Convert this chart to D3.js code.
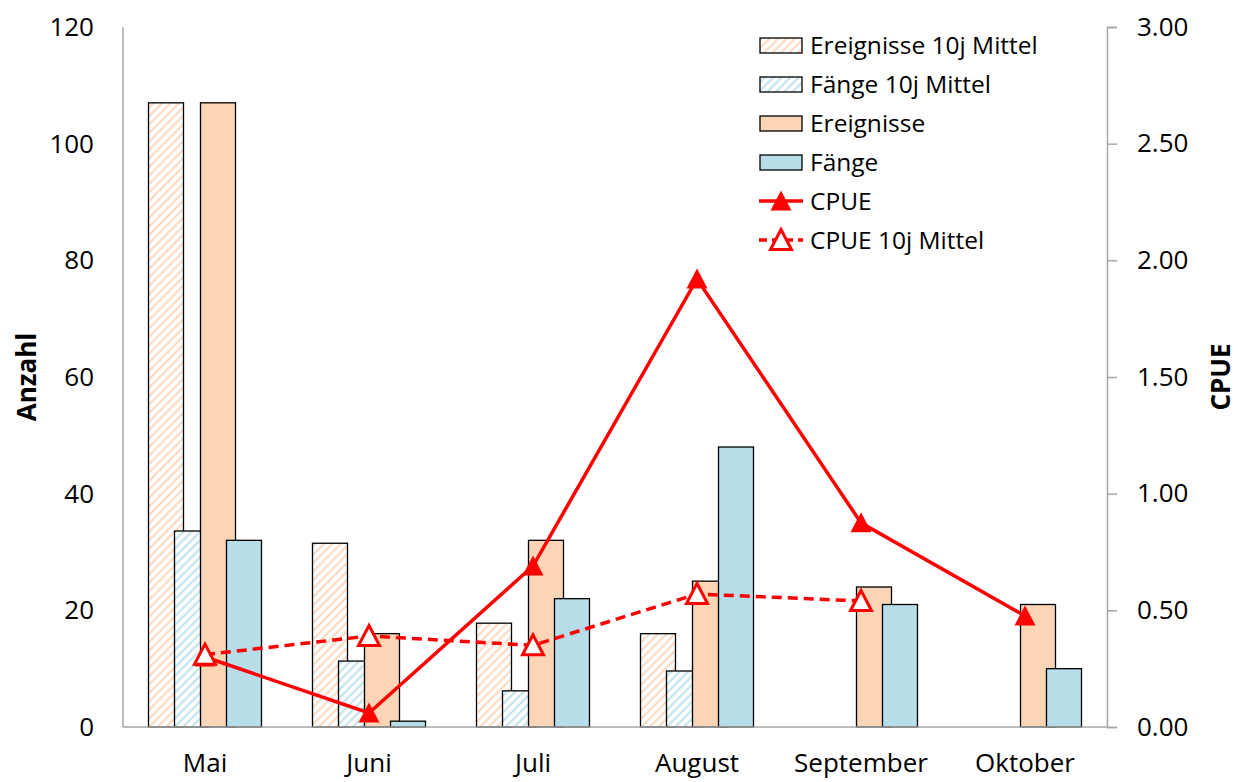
<!doctype html>
<html>
<head>
<meta charset="utf-8">
<style>
    body { margin: 0; background: #fff; }
    text { font-family: "Open Sans", sans-serif; fill: #000; }
</style>
<script src="https://d3js.org/d3.v7.min.js"></script>
</head>
<body>
<svg width="1241" height="782"></svg>
<script>

    // data
    var months = ["Mai", "Juni", "Juli", "August", "September", "Oktober"];
    var ereignisse10j = [107, 31.5, 17.8, 16, null, null];
    var faenge10j     = [33.6, 11.3, 6.2, 9.6, null, null];
    var ereignisse    = [107, 16, 32, 25, 24, 21];
    var faenge        = [32, 1, 22, 48, 21, 10];
    var cpue          = [0.30, 0.06, 0.69, 1.92, 0.875, 0.476];
    var cpue10j       = [0.31, 0.39, 0.35, 0.57, 0.54, null];
    var leftTicks  = [0, 20, 40, 60, 80, 100, 120];
    var rightTicks = [0, 0.5, 1, 1.5, 2, 2.5, 3];

    var peach = "#fbd5b5", blue = "#b7dee8", red = "#ff0000", axisGrey = "#a6a6a6";

    var svg = d3.select("svg");
    var plotLeft = 123, plotRight = 1107, plotTop = 27, plotBottom = 727;

    var x = d3.scaleBand().domain(months).range([plotLeft, plotRight]).padding(0);
    var y = d3.scaleLinear().domain([0, 120]).range([plotBottom, plotTop]);
    var y2 = d3.scaleLinear().domain([0, 3]).range([plotBottom, plotTop]);

    var series = [
        { name: "Ereignisse 10j Mittel", values: ereignisse10j, fill: "url(#hatchPeach)" },
        { name: "Fänge 10j Mittel", values: faenge10j, fill: "url(#hatchBlue)" },
        { name: "Ereignisse", values: ereignisse, fill: peach },
        { name: "Fänge", values: faenge, fill: blue }
    ];

    var barW = 35;
    var slot = d3.scalePoint().domain(d3.range(4)).range([-56.5, 21.5]);

    // hatch patterns
    var defs = svg.append("defs");
    [["hatchPeach", "#f9d2b4"], ["hatchBlue", "#b8dde8"]].forEach(function(p) {
        var pat = defs.append("pattern")
            .attr("id", p[0])
            .attr("patternUnits", "userSpaceOnUse")
            .attr("width", 6).attr("height", 6)
            .attr("patternTransform", "rotate(45)");
        pat.append("rect").attr("width", 6).attr("height", 6).attr("fill", "#fff");
        pat.append("line")
            .attr("x1", 1.5).attr("y1", 0).attr("x2", 1.5).attr("y2", 6)
            .attr("stroke", p[1]).attr("stroke-width", 1.8);
    });

    // bars
    series.forEach(function(s, si) {
        svg.append("g").selectAll("rect")
            .data(months.map(function(m, i) { return { m: m, v: s.values[i] }; })
                .filter(function(d) { return d.v != null; }))
            .enter().append("rect")
            .attr("x", function(d) { return x(d.m) + x.bandwidth() / 2 + slot(si); })
            .attr("y", function(d) { return y(d.v); })
            .attr("width", barW)
            .attr("height", function(d) { return y(0) - y(d.v); })
            .attr("fill", s.fill)
            .attr("stroke", "#000")
            .attr("stroke-width", 1.3);
    });

    // axes
    svg.append("line").attr("x1", plotLeft).attr("x2", plotLeft).attr("y1", plotTop).attr("y2", plotBottom)
        .attr("stroke", axisGrey).attr("stroke-width", 1.5);
    svg.append("line").attr("x1", plotLeft).attr("x2", plotRight).attr("y1", plotBottom).attr("y2", plotBottom)
        .attr("stroke", axisGrey).attr("stroke-width", 1.5);

    var ax2 = svg.append("g")
        .attr("transform", "translate(" + plotRight + ",0)")
        .call(d3.axisRight(y2).tickValues(rightTicks).tickSize(10).tickPadding(20)
            .tickFormat(d3.format(".2f")));
    ax2.select(".domain").attr("stroke", axisGrey).attr("stroke-width", 1.5);
    ax2.selectAll(".tick line").attr("stroke", axisGrey).attr("stroke-width", 1.5);
    ax2.selectAll("text").attr("font-size", 26).attr("font-family", "Open Sans").attr("fill", "#000");

    svg.append("g").selectAll("text")
        .data(leftTicks).enter().append("text")
        .attr("x", 94)
        .attr("y", function(d) { return y(d); })
        .attr("dy", "0.35em")
        .attr("text-anchor", "end")
        .attr("font-size", 26)
        .text(function(d) { return d; });

    svg.append("g").selectAll("text")
        .data(months).enter().append("text")
        .attr("x", function(d) { return x(d) + x.bandwidth() / 2; })
        .attr("y", 772)
        .attr("text-anchor", "middle")
        .attr("font-size", 26)
        .text(function(d) { return d; });

    svg.append("text")
        .attr("transform", "translate(36,377) rotate(-90)")
        .attr("text-anchor", "middle")
        .attr("font-size", 26).attr("font-weight", "bold")
        .text("Anzahl");

    svg.append("text")
        .attr("transform", "translate(1230,377) rotate(-90)")
        .attr("text-anchor", "middle")
        .attr("font-size", 26).attr("font-weight", "bold")
        .text("CPUE");

    // CPUE lines
    function tri(cx, cy) {
        return "M" + cx + "," + (cy - 10.5) + "L" + (cx + 10.5) + "," + (cy + 9.5) + "L" + (cx - 10.5) + "," + (cy + 9.5) + "Z";
    }
    var cx = function(i) { return x(months[i]) + x.bandwidth() / 2; };

    var lineGen = d3.line()
        .defined(function(d) { return d != null; })
        .x(function(d, i) { return cx(i); })
        .y(function(d) { return y2(d); });

    svg.append("path").attr("d", lineGen(cpue))
        .attr("fill", "none").attr("stroke", red).attr("stroke-width", 3.5);
    svg.append("g").selectAll("path")
        .data(cpue).enter().append("path")
        .attr("d", function(d, i) { return tri(cx(i), y2(d)); })
        .attr("fill", red);

    svg.append("path").attr("d", lineGen(cpue10j))
        .attr("fill", "none").attr("stroke", red).attr("stroke-width", 3.5)
        .attr("stroke-dasharray", "10,6");
    svg.append("g").selectAll("path")
        .data(cpue10j.map(function(d, i) { return { v: d, i: i }; }).filter(function(d) { return d.v != null; }))
        .enter().append("path")
        .attr("d", function(d) { return tri(cx(d.i), y2(d.v)); })
        .attr("fill", "#fff").attr("stroke", red).attr("stroke-width", 3);

    // legend
    var legend = svg.append("g");
    var legY = [45, 84, 123, 162, 201, 240];
    series.forEach(function(s, i) {
        legend.append("rect")
            .attr("x", 760).attr("y", legY[i] - 7).attr("width", 42).attr("height", 15)
            .attr("fill", s.fill).attr("stroke", "#000").attr("stroke-width", 1.3);
        legend.append("text")
            .attr("x", 810).attr("y", legY[i]).attr("dy", "0.35em")
            .attr("font-size", 24.5).text(s.name);
    });
    var lineItems = [["CPUE", red, null], ["CPUE 10j Mittel", "#fff", "10,6"]];
    lineItems.forEach(function(l, j) {
        var ly = legY[4 + j];
        legend.append("line")
            .attr("x1", 759).attr("x2", 803).attr("y1", ly).attr("y2", ly)
            .attr("stroke", red).attr("stroke-width", 3.5)
            .attr("stroke-dasharray", l[2] ? "8,5" : null);
        legend.append("path").attr("d", tri(781, ly))
            .attr("fill", l[1]).attr("stroke", l[2] ? red : "none").attr("stroke-width", 3);
        legend.append("text")
            .attr("x", 810).attr("y", ly).attr("dy", "0.35em")
            .attr("font-size", 24.5).text(l[0]);
    });

</script>
</body>
</html>
